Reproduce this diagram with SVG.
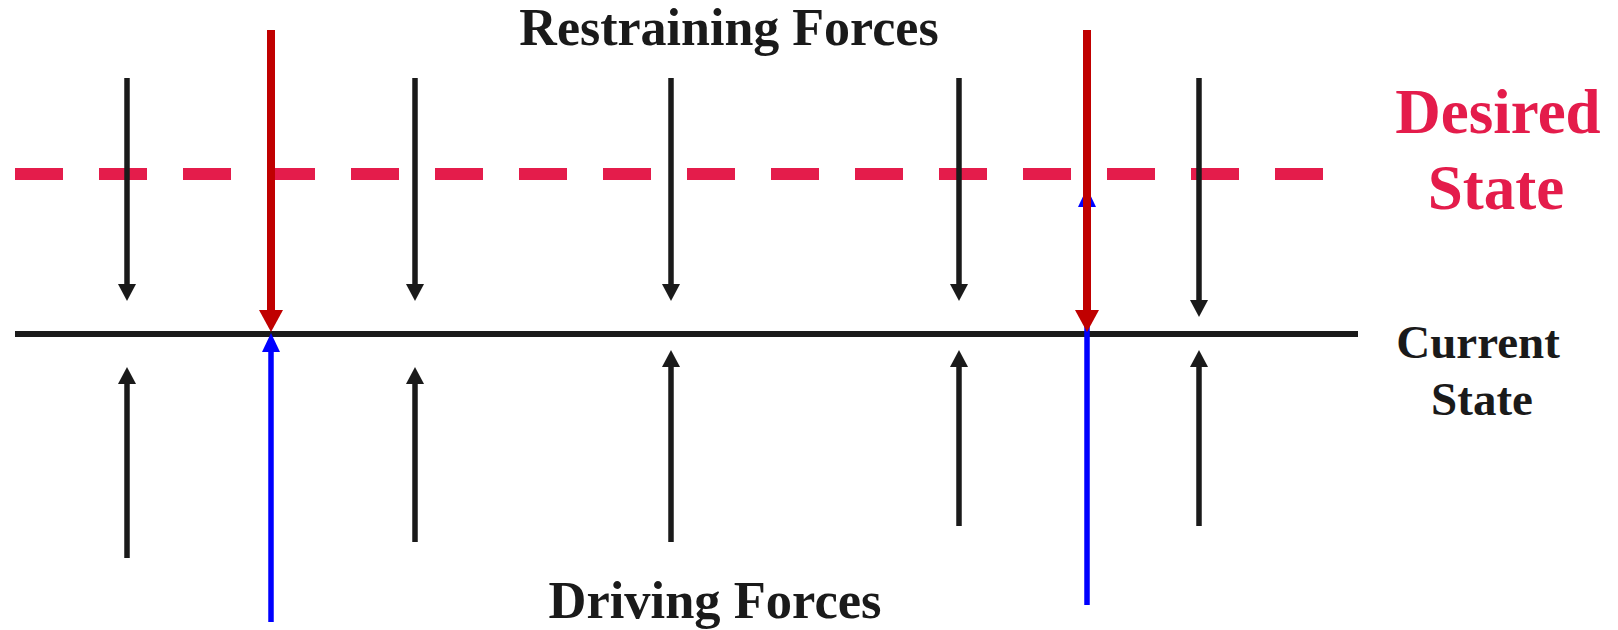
<svg xmlns="http://www.w3.org/2000/svg" width="1618" height="630" viewBox="0 0 1618 630">
<style>
.lbl{font-family:"Liberation Serif","Times New Roman",serif;font-weight:bold;text-anchor:middle}
.dark{fill:#1a1a1a}
.pink{fill:#e41c4b}
.blk{stroke:#1a1a1a;stroke-width:5.5;fill:none}
.red{stroke:#c00000;stroke-width:8;fill:none}
.blue{stroke:#0000ff;stroke-width:5.5;fill:none}
</style>
<defs>
<marker id="hBlk" markerUnits="userSpaceOnUse" orient="auto" viewBox="0 -9 17 18" refX="0" refY="0" markerWidth="17" markerHeight="18"><path d="M0,-9 L17,0 L0,9 Z" fill="#1a1a1a"/></marker>
<marker id="hRed" markerUnits="userSpaceOnUse" orient="auto" viewBox="0 -12 22 24" refX="0" refY="0" markerWidth="22" markerHeight="24"><path d="M0,-12 L22,0 L0,12 Z" fill="#c00000"/></marker>
<marker id="hBlue" markerUnits="userSpaceOnUse" orient="auto" viewBox="0 -9 19 18" refX="0" refY="0" markerWidth="19" markerHeight="18"><path d="M0,-9 L19,0 L0,9 Z" fill="#0000ff"/></marker>
</defs>
<g id="desired-line">
<line x1="15" y1="174" x2="1323" y2="174" stroke="#e41c4b" stroke-width="12" stroke-dasharray="48 36"/>
</g>
<g id="current-line">
<line x1="15" y1="334" x2="1358" y2="334" stroke="#1a1a1a" stroke-width="6"/>
</g>
<g id="connectors">
<g id="restraining">
<line class="blk" x1="127" y1="78" x2="127" y2="284" marker-end="url(#hBlk)"/>
<line class="blk" x1="415" y1="78" x2="415" y2="284" marker-end="url(#hBlk)"/>
<line class="blk" x1="671" y1="78" x2="671" y2="284" marker-end="url(#hBlk)"/>
<line class="blk" x1="959" y1="78" x2="959" y2="284" marker-end="url(#hBlk)"/>
<line class="blk" x1="1199" y1="78" x2="1199" y2="300" marker-end="url(#hBlk)"/>
</g>
<g id="driving">
<line class="blk" x1="127" y1="558" x2="127" y2="384" marker-end="url(#hBlk)"/>
<line class="blk" x1="415" y1="542" x2="415" y2="384" marker-end="url(#hBlk)"/>
<line class="blk" x1="671" y1="542" x2="671" y2="367" marker-end="url(#hBlk)"/>
<line class="blk" x1="959" y1="526" x2="959" y2="367" marker-end="url(#hBlk)"/>
<line class="blk" x1="1199" y1="526" x2="1199" y2="367" marker-end="url(#hBlk)"/>
</g>
<g id="blue-forces">
<line class="blue" x1="271" y1="622" x2="271" y2="352" marker-end="url(#hBlue)"/>
<line class="blue" x1="1087" y1="605" x2="1087" y2="207" marker-end="url(#hBlue)"/>
</g>
<g id="red-forces">
<line class="red" x1="271" y1="30" x2="271" y2="310" marker-end="url(#hRed)"/>
<line class="red" x1="1087" y1="30" x2="1087" y2="310" marker-end="url(#hRed)"/>
</g>
</g>
<g id="label-restraining"><text class="lbl dark" x="729" y="45" font-size="52">Restraining Forces</text></g>
<g id="label-driving"><text class="lbl dark" x="715" y="618" font-size="52.5">Driving Forces</text></g>
<g id="label-desired"><text class="lbl pink" font-size="63"><tspan x="1498" y="133">Desired</tspan><tspan x="1496" y="209">State</tspan></text></g>
<g id="label-current"><text class="lbl dark" font-size="47"><tspan x="1478" y="358">Current</tspan><tspan x="1482" y="415">State</tspan></text></g>
</svg>
